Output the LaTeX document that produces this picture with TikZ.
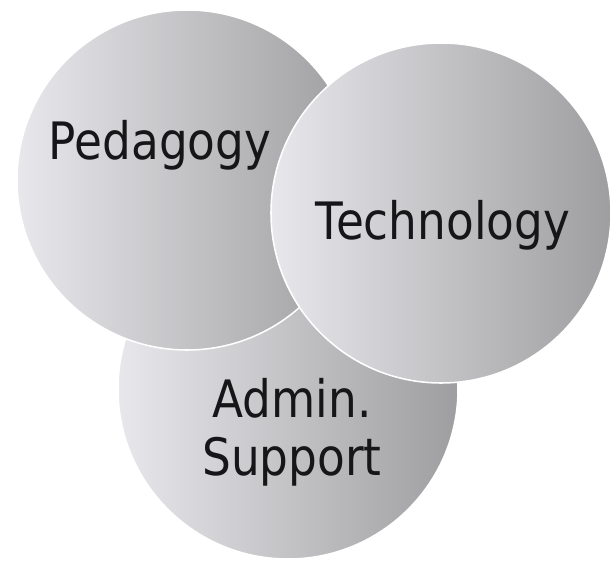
\documentclass[tikz,border=0pt]{standalone}
\usepackage{fontspec}
\setmainfont{DejaVu Sans}[FakeStretch=0.88]
\usepackage{tikz}
\usetikzlibrary{positioning}

\definecolor{discleft}{RGB}{232,232,236}
\definecolor{discright}{RGB}{158,158,160}
\definecolor{wordcol}{RGB}{22,22,24}

\tikzset{
    disc/.style={circle,draw=white,line width=1.3pt,inner sep=0pt,
        minimum size=10.2cm,left color=discleft,right color=discright},
    word/.style={text=wordcol,font=\fontsize{44}{49.5}\selectfont,inner sep=0pt}
}

\begin{document}
\begin{tikzpicture}[x=0.03cm,y=-0.03cm]
        \useasboundingbox (0,0) rectangle (613,564);

        % Circles
        \node[disc] (admin) at (288, 389) {};
        \node[disc] (ped) at (187, 180) {};
        \node[disc] (tech) at (441, 213) {};

        % Labels
        \node[word,anchor=base] (pedtext) at (160, 160) {Pedagogy};
        \node[word,anchor=base] (techtext) at (443, 240) {Technology};
        \node[word,align=center] (admintext) at (292, 432) {Admin.\\Support};
\end{tikzpicture}
\end{document}
